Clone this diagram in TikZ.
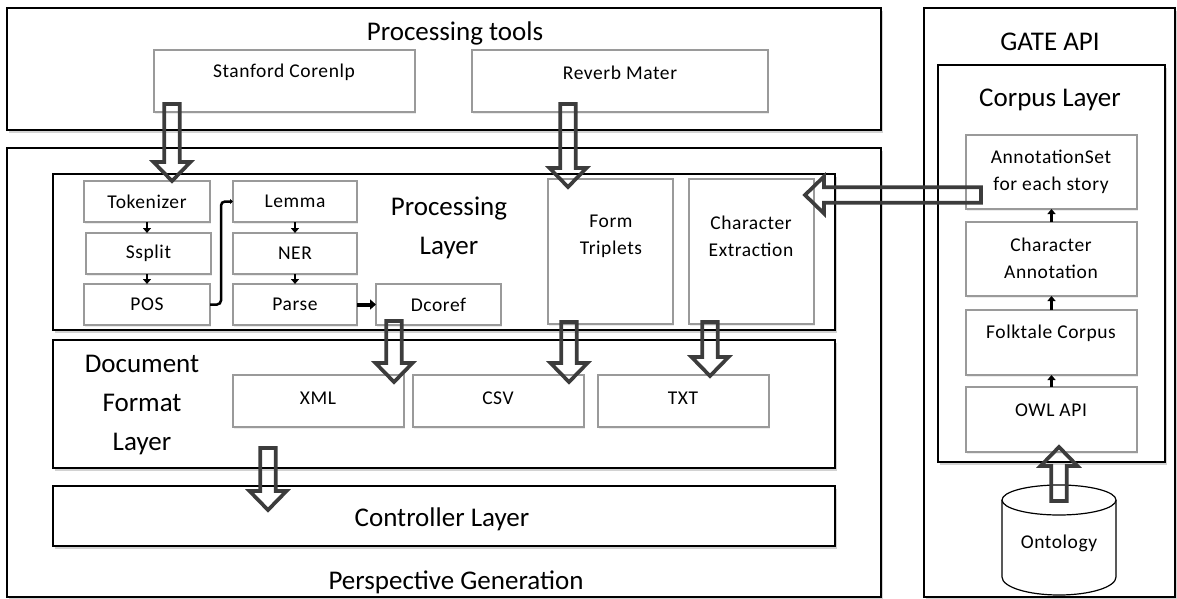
\documentclass[tikz,border=0pt]{standalone}
\usepackage{fontspec}
\setmainfont{Carlito}
\newfontfamily\spacedfont[LetterSpace=3]{Carlito}
\usetikzlibrary{calc,arrows.meta,shadows}
\definecolor{boxgray}{HTML}{9A9A9A}
\definecolor{arrgray}{HTML}{3C3C3C}
\newcommand\bx[6]{\node[#6, anchor=north west, minimum width={(#4-#2)*1pt}, minimum height={(#5-#3)*1pt}] (#1) at (#2,#3) {};}
\newcommand\fatarrow[2]{%
  \coordinate (fa-b) at ($(#2)!19pt!(#1)$);
  \draw[fatarr] ($(#1)!7.75pt!90:(#2)$) -- ($(fa-b)!7.75pt!-90:(#1)$) -- ($(fa-b)!18.5pt!-90:(#1)$) -- (#2)
     -- ($(fa-b)!18.5pt!90:(#1)$) -- ($(fa-b)!7.75pt!90:(#1)$) -- ($(#1)!7.75pt!-90:(#2)$) -- cycle;}
\begin{document}
\begin{tikzpicture}[x=1pt,y=-1pt,
  outerbox/.style={draw=black, line width=1.3pt, inner sep=0pt, outer sep=0pt, fill=white,
     drop shadow={shadow xshift=1.5pt, shadow yshift=-2.5pt, opacity=0.35}},
  layerbox/.style={draw=black, line width=1.3pt, inner sep=0pt, outer sep=0pt, fill=white,
     drop shadow={shadow xshift=1.5pt, shadow yshift=-2.5pt, opacity=0.35}},
  smallbox/.style={draw=boxgray, line width=1.2pt, inner sep=0pt, outer sep=0pt, fill=white,
     drop shadow={shadow xshift=1pt, shadow yshift=-1.5pt, opacity=0.15}},
  bigtxt/.style={font=\fontsize{27}{39}\selectfont, align=center, inner sep=0pt},
  smalltxt/.style={font=\spacedfont\fontsize{19.5}{27}\selectfont, align=center, inner sep=0pt},
  sarr/.style={line width=2.3pt, -{Triangle[length=5pt,width=8pt]}},
  fatarr/.style={draw=arrgray, line width=3.7pt, line join=miter, fill=none},
]
\useasboundingbox (0,0) rectangle (1177,598);

% outer containers
\bx{tools}{7}{8}{881}{130}{outerbox}
\bx{persp}{7}{148}{881}{597}{outerbox}
\bx{gate}{924}{8}{1175}{597}{outerbox}

\node[bigtxt] (toolsT) at (455,33) {Processing tools};
\node[bigtxt] (perspT) at (456,582) {Perspective Generation};
\node[bigtxt] (gateT) at (1050,42) {GATE API};

% processing tools
\bx{stanford}{154}{50}{415}{112}{smallbox}
\bx{reverb}{472}{50}{768}{112}{smallbox}
\node[smalltxt] (stanfordT) at (284,72) {Stanford Corenlp};
\node[smalltxt] (reverbT) at (620,73) {Reverb Mater};

% processing layer
\bx{proc}{53}{174}{835}{330}{layerbox}
\node[bigtxt] (procT) at (449,228) {Processing\\Layer};
\bx{tok}{84}{181}{210}{222}{smallbox}
\bx{ssplit}{86}{233}{211}{274}{smallbox}
\bx{pos}{84}{284}{210}{325}{smallbox}
\bx{lemma}{233}{181}{357}{222}{smallbox}
\bx{ner}{233}{233}{357}{274}{smallbox}
\bx{parse}{233}{284}{357}{325}{smallbox}
\bx{dcoref}{376}{284}{501}{325}{smallbox}
\bx{form}{548}{179}{673}{324}{smallbox}
\bx{charex}{689}{179}{814}{324}{smallbox}
\node[smalltxt] at (tok) {Tokenizer};
\node[smalltxt] at (ssplit) {Ssplit};
\node[smalltxt] at (pos) {POS};
\node[smalltxt] at (lemma) {Lemma};
\node[smalltxt] at (ner) {NER};
\node[smalltxt] at (parse) {Parse};
\node[smalltxt] at (dcoref) {Dcoref};
\node[smalltxt] (formT) at (611,236) {Form\\Triplets};
\node[smalltxt] (charexT) at (751,236) {Character\\Extraction};

% document format layer
\bx{doc}{53}{340}{835}{468}{layerbox}
\node[bigtxt] (docT) at (142,405) {Document\\Format\\Layer};
\bx{xml}{233}{375}{404}{427}{smallbox}
\bx{csv}{413}{375}{584}{427}{smallbox}
\bx{txt}{598}{375}{769}{427}{smallbox}
\node[smalltxt] (xmlT) at (318,398) {XML};
\node[smalltxt] (csvT) at (498,398) {CSV};
\node[smalltxt] (txtT) at (683,398) {TXT};

% controller layer
\bx{ctrl}{53}{486}{835}{546}{layerbox}
\node[bigtxt] (ctrlT) at (442,519) {Controller Layer};

% corpus layer
\bx{corpus}{938}{65}{1165}{462}{layerbox}
\node[bigtxt] (corpusT) at (1050,100) {Corpus Layer};
\bx{annset}{966}{135}{1137}{209}{smallbox}
\bx{charann}{966}{222}{1137}{296}{smallbox}
\bx{folk}{966}{310}{1137}{375}{smallbox}
\bx{owl}{966}{387}{1137}{452}{smallbox}
\node[smalltxt] (annsetT) at (1051,172) {AnnotationSet\\for each story};
\node[smalltxt] (charannT) at (1051,258.5) {Character\\Annotation};
\node[smalltxt] (folkT) at (1051,333) {Folktale Corpus};
\node[smalltxt] (owlT) at (1051,410) {OWL API};

% ontology cylinder
\draw[line width=1.2pt, fill=white] (1002,500) -- (1002,577) arc[start angle=180, end angle=360, x radius=57pt, y radius=18pt] -- (1116,500);
\draw[line width=1.2pt, fill=white] (1059,500) ellipse [x radius=57pt, y radius=15pt];
\node[smalltxt] (onto) at (1059,543) {Ontology};

% small connectors
\draw[sarr] (tok.south) -- (tok.south |- ssplit.north);
\draw[sarr] (tok.south |- ssplit.south) -- (tok.south |- pos.north);
\draw[sarr] (lemma.south) -- (ner.north);
\draw[sarr] (ner.south) -- (parse.north);
\draw[line width=4pt, -{Triangle[length=6pt,width=10pt]}] (parse.east) -- (dcoref.west |- parse.east);
\draw[line width=2.5pt, rounded corners=4pt, -{Triangle[length=3pt,width=5pt]}] (pos.east) -- ++(11,0) |- (lemma.west);
\draw[sarr] (charann.north) -- (annset.south);
\draw[sarr] (folk.north) -- (charann.south);
\draw[sarr] (owl.north) -- (folk.south);

% hollow arrows
\coordinate (a1s) at (172,104);  \coordinate (a1e) at (172,181);
\coordinate (a2s) at (568,104);  \coordinate (a2e) at (568,187);
\coordinate (a3s) at (394,321);  \coordinate (a3e) at (394,382);
\coordinate (a4s) at (569,322);  \coordinate (a4e) at (569,382);
\coordinate (a5s) at (710,322);  \coordinate (a5e) at (710,376);
\coordinate (a6s) at (268,448);  \coordinate (a6e) at (268,510);
\coordinate (a7s) at (981,195);  \coordinate (a7e) at (805,195);
\coordinate (a8s) at (1059,501); \coordinate (a8e) at (1059,447);
\fatarrow{a1s}{a1e}
\fatarrow{a2s}{a2e}
\fatarrow{a3s}{a3e}
\fatarrow{a4s}{a4e}
\fatarrow{a5s}{a5e}
\fatarrow{a6s}{a6e}
\fatarrow{a7s}{a7e}
\fatarrow{a8s}{a8e}
\end{tikzpicture}
\end{document}
